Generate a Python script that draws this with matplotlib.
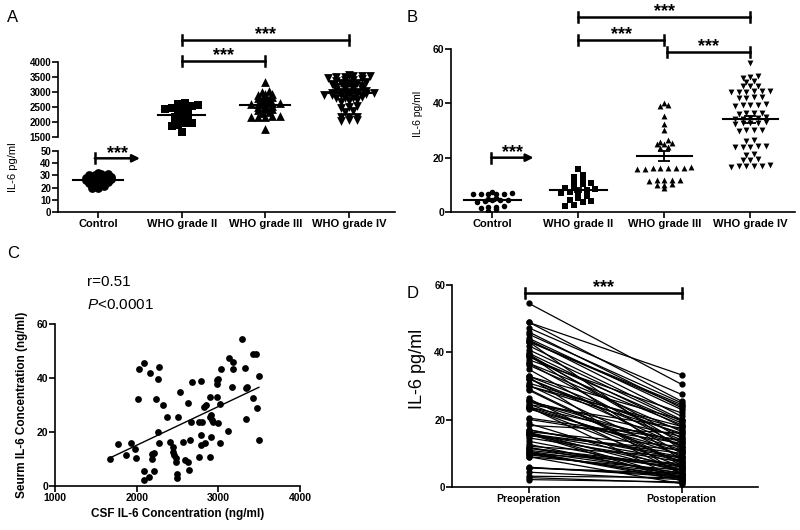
import numpy as np
import matplotlib
matplotlib.use("Agg")
import matplotlib.pyplot as plt

plt.rcParams["font.family"] = ["Liberation Sans", "DejaVu Sans"]
plt.rcParams["mathtext.fontset"] = "custom"
plt.rcParams["mathtext.it"] = "Liberation Sans:italic"
plt.rcParams["mathtext.rm"] = "Liberation Sans"

groups = ["Control", "WHO grade II", "WHO grade III", "WHO grade IV"]

# panel A: CSF IL-6 (pg/ml)
a_control = [32, 31, 31, 30, 30, 29, 29, 28, 28, 28, 27, 27, 27, 26, 26,
             25, 25, 24, 24, 23, 23, 22, 21, 20, 20]
a_grade2 = [2650, 2600, 2580, 2550, 2520, 2500, 2480, 2450, 2400, 2300, 2250,
            2200, 2150, 2100, 2050, 2000, 1980, 1950, 1900, 1850, 1650]
a_grade3 = [3350, 3050, 3000, 2950, 2950, 2900, 2850, 2800, 2800, 2750, 2700,
            2650, 2650, 2600, 2600, 2600, 2550, 2550, 2500, 2450, 2450, 2400,
            2350, 2300, 2200, 2200, 2150, 2150, 2150, 1750]
a_grade4 = [3560, 3550, 3540, 3530, 3500, 3490, 3480, 3420, 3400, 3390, 3380,
            3320, 3310, 3300, 3290, 3280, 3210, 3200, 3190, 3180, 3110, 3100,
            3090, 3080, 3020, 3010, 3000, 2990, 2980, 2960, 2950, 2940, 2930,
            2910, 2900, 2890, 2820, 2810, 2800, 2790, 2720, 2700, 2680, 2520,
            2500, 2480, 2360, 2340, 2170, 2160, 2150, 2060, 2050, 2040]

# panel B: serum IL-6 (pg/ml)
b_control = [7.5, 6.8, 6.6, 6.5, 6.5, 6.8, 7.0, 5.0, 4.8, 4.5, 4.3, 4.0, 3.8,
             4.5, 2.0, 1.8, 1.5, 0.3, 2.2, 1.2]
b_grade2 = [15.8, 13.5, 13.0, 11.8, 11.0, 10.5, 10.2, 9.5, 9.0, 8.5, 8.0, 7.5,
            7.2, 7.0, 6.0, 5.0, 4.5, 4.0, 3.5, 2.5, 2.2]
b_grade3 = [40.0, 39.5, 39.0, 35.2, 32.5, 30.3, 26.5, 25.8, 25.5, 25.2, 25.0,
            23.8, 23.5, 16.5, 16.3, 16.2, 16.2, 16.0, 16.0, 16.2, 16.3, 11.8,
            11.8, 11.6, 11.5, 11.7, 10.2, 10.0, 10.0, 9.0]
b_grade4 = [55.0, 50.0, 49.8, 49.5, 48.2, 48.0, 46.5, 46.5, 46.2, 44.6, 44.5,
            44.4, 44.3, 44.2, 44.0, 42.3, 42.2, 42.0, 41.8, 39.6, 39.5, 39.4,
            39.3, 39.2, 36.5, 36.4, 36.3, 36.2, 34.8, 34.6, 34.5, 34.4, 34.3,
            33.0, 32.8, 32.7, 32.6, 32.5, 30.3, 30.2, 30.1, 30.0, 26.5, 26.3,
            24.3, 24.2, 24.1, 24.0, 23.9, 21.2, 21.0, 19.5, 19.3, 19.2, 17.2,
            17.0, 16.9, 16.8, 16.8, 16.7]

# panel C: CSF vs serum
csf = [1673, 1767, 1869, 1930, 1979, 1996, 2020, 2028, 2085, 2159, 2085, 2093,
       2155, 2183, 2191, 2216, 2216, 2232, 2265, 2277, 2265, 2273, 2326, 2371,
       2404, 2449, 2449, 2461, 2477, 2481, 2490, 2498, 2510, 2530, 2571, 2591,
       2624, 2624, 2644, 2652, 2665, 2673, 2763, 2763, 2783, 2783, 2787, 2795,
       2828, 2836, 2844, 2893, 2897, 2901, 2909, 2909, 2926, 2938, 2979, 2979,
       2987, 2991, 2999, 3016, 3024, 3032, 3114, 3130, 3162, 3179, 3179, 3293,
       3330, 3334, 3334, 3350, 3424, 3424, 3464, 3468, 3497, 3497]
serum = [9.9, 15.6, 11.6, 15.8, 13.6, 10.4, 32.2, 43.2, 45.4, 42.0, 5.7, 2.2,
         3.2, 9.9, 11.7, 12.1, 5.7, 32.2, 39.8, 44.2, 20.1, 15.8, 30.0, 25.4,
         16.3, 14.6, 12.7, 11.5, 10.3, 9.0, 4.4, 2.8, 25.4, 35.0, 16.4, 9.6,
         9.0, 30.9, 5.9, 17.0, 23.6, 38.7, 23.8, 10.6, 39.0, 18.9, 15.2, 23.8,
         29.1, 16.1, 30.0, 32.9, 10.9, 25.7, 26.3, 18.3, 24.5, 23.8, 37.8, 32.9,
         39.3, 23.2, 39.5, 15.8, 30.3, 43.3, 20.5, 47.3, 36.8, 46.1, 43.2, 54.6,
         43.8, 24.7, 36.2, 36.8, 32.7, 48.9, 49.0, 28.8, 40.8, 17.0]

# panel D: serum IL-6 before / after surgery
pre_op = serum
post_op = [3, 6, 4, 8, 5, 2.5, 14, 24, 25, 20, 3.5, 1.5, 2.8, 7, 5.5, 9, 4, 12,
           18, 23, 13, 10, 16, 11, 4.5, 7.5, 3.2, 6.5, 2, 5, 2.2, 1.2, 15, 10,
           12, 3.8, 1, 17, 3, 8.5, 6, 19, 13.5, 4.2, 14.5, 5, 11, 9.5, 7, 2.6,
           18, 20, 6, 12.5, 4, 16, 17.5, 2, 22, 15.5, 8, 10.5, 13, 1.8, 9, 24.5,
           14, 27.5, 18.5, 23.5, 11, 30.5, 21, 7.5, 16.5, 12, 3.5, 33.3, 25.5,
           6.5, 19.5, 9]

W, H = 800, 530


def rect(x0, y0, x1, y1):
    return [x0 / W, 1 - y1 / H, (x1 - x0) / W, (y1 - y0) / H]


def style(ax, fs=7):
    for s in ["top", "right"]:
        ax.spines[s].set_visible(False)
    for s in ["left", "bottom"]:
        ax.spines[s].set_linewidth(1.2)
    ax.tick_params(direction="out", length=4, width=1.2, labelsize=fs, pad=1)
    for lab in ax.get_xticklabels() + ax.get_yticklabels():
        lab.set_fontweight("bold")


def swarm(vals, h, dx):
    # group close values into rows and spread each row sideways
    v = np.sort(np.asarray(vals, float))
    offs = np.zeros_like(v)
    i = 0
    while i < len(v):
        j = i
        while j < len(v) and v[j] - v[i] < h:
            j += 1
        n = j - i
        offs[i:j] = (np.arange(n) - (n - 1) / 2) * dx
        i = j
    return v, offs


def dots(ax, x, vals, marker, s, h, dx, half=0.3, cap=3):
    v, offs = swarm(vals, h, dx)
    ax.scatter(x + offs, v, marker=marker, s=s, color="k", linewidths=0, zorder=3)
    m = v.mean()
    sem = v.std(ddof=1) / np.sqrt(len(v))
    ax.plot([x - half, x + half], [m, m], color="k", lw=1.5, zorder=4)
    ax.errorbar(x, m, yerr=sem, color="k", lw=1.3, capsize=cap, capthick=1.3, zorder=4)


def stars(ax, x, y):
    ax.annotate("***", xy=(x, y), xytext=(0, 0.5),
                textcoords="offset points", ha="center", va="baseline",
                fontsize=13, fontweight="bold", annotation_clip=False)


def bracket(ax, x0, x1, y, cap):
    ax.plot([x0, x1], [y, y], color="k", lw=1.8, clip_on=False)
    for x in (x0, x1):
        ax.plot([x, x], [y - cap, y + cap], color="k", lw=1.8, clip_on=False)
    stars(ax, (x0 + x1) / 2, y)


def arrow(ax, x0, x1, y, cap):
    ax.plot([x0, x0], [y - cap, y + cap], color="k", lw=1.8, clip_on=False)
    ax.annotate("", xy=(x1, y), xytext=(x0, y),
                arrowprops=dict(arrowstyle="-|>", lw=1.8, color="k", mutation_scale=11,
                                shrinkA=0, shrinkB=0), annotation_clip=False)
    stars(ax, (x0 + x1) / 2, y)


fig = plt.figure(figsize=(8, 5.3), dpi=100)

# ---- A (broken y axis) ----
ax_au = fig.add_axes(rect(58, 62, 395, 137))
ax_al = fig.add_axes(rect(58, 151, 395, 212))
for ax in (ax_au, ax_al):
    ax.set_xlim(-0.48, 3.55)
ax_au.set_ylim(1500, 4000)
ax_au.set_yticks(range(1500, 4001, 500))
ax_al.set_ylim(0, 50)
ax_al.set_yticks(range(0, 51, 10))
ax_al.set_xticks(range(4))
ax_al.set_xticklabels(groups)
dots(ax_al, 0, a_control, "o", 40, 1.2, 0.075)
dots(ax_au, 1, a_grade2, "s", 38, 150, 0.08, half=0.28)
dots(ax_au, 2, a_grade3, "^", 40, 100, 0.085)
dots(ax_au, 3, a_grade4, "v", 40, 80, 0.1)
style(ax_au)
style(ax_al)
ax_au.spines["bottom"].set_visible(False)
ax_au.tick_params(axis="x", bottom=False, labelbottom=False)
for lab in ax_al.get_xticklabels():
    lab.set_fontsize(8)
bracket(ax_au, 1, 3, 4733, 160)
bracket(ax_au, 1, 2, 4033, 160)
arrow(ax_al, -0.04, 0.5, 44, 4)
fig.text(13 / W, 1 - 167 / H, "IL-6 pg/ml", rotation=90, ha="center", va="center", fontsize=8)

# ---- B ----
ax_b = fig.add_axes(rect(451, 49, 795, 212))
ax_b.set_xlim(-0.48, 3.52)
ax_b.set_ylim(0, 60)
ax_b.set_yticks([0, 20, 40, 60])
ax_b.set_xticks(range(4))
ax_b.set_xticklabels(groups)
dots(ax_b, 0, b_control, "o", 16, 1.0, 0.09, half=0.33)
dots(ax_b, 1, b_grade2, "s", 18, 2.0, 0.1, half=0.33)
dots(ax_b, 2, b_grade3, "^", 18, 0.8, 0.09, half=0.32, cap=4)
dots(ax_b, 3, b_grade4, "v", 18, 0.8, 0.09, half=0.32, cap=4)
style(ax_b, 7.5)
for lab in ax_b.get_xticklabels():
    lab.set_fontsize(8)
bracket(ax_b, 1, 3, 71.8, 1.8)
bracket(ax_b, 1, 2, 63.3, 1.8)
bracket(ax_b, 2.03, 3, 58.9, 1.8)
arrow(ax_b, -0.01, 0.48, 20, 1.8)
fig.text(418 / W, 1 - 114 / H, "IL-6 pg/ml", rotation=90, ha="center", va="center", fontsize=7.5)

# ---- C ----
ax_c = fig.add_axes(rect(55, 324, 300, 486))
ax_c.scatter(csf, serum, s=24, color="k", linewidths=0, zorder=3)
k, b = np.polyfit(csf, serum, 1)
xs = np.array([min(csf), max(csf)])
ax_c.plot(xs, k * xs + b, color="k", lw=1)
ax_c.set_xlim(1000, 4000)
ax_c.set_ylim(0, 60)
ax_c.set_xticks([1000, 2000, 3000, 4000])
ax_c.set_yticks([0, 20, 40, 60])
style(ax_c, 7.5)
ax_c.set_xlabel("CSF IL-6 Concentration (ng/ml)", fontsize=8.5, fontweight="bold", labelpad=4)
ax_c.set_ylabel("Seurm IL-6 Concentration (ng/ml)", fontsize=8.5, fontweight="bold", labelpad=6)
fig.text(87 / W, 1 - 286 / H, "r=0.51", fontsize=11)
fig.text(87 / W, 1 - 309 / H, r"$\it{P}$<0.0001", fontsize=11)

# ---- D ----
ax_d = fig.add_axes(rect(452, 285, 758, 487))
ax_d.plot([0, 1], np.vstack([pre_op, post_op]), color="k", lw=0.9,
          marker="o", ms=3.5, zorder=3)
ax_d.set_xlim(-0.5, 1.5)
ax_d.set_ylim(0, 60)
ax_d.set_yticks([0, 20, 40, 60])
ax_d.set_xticks([0, 1])
ax_d.set_xticklabels(["Preoperation", "Postoperation"])
style(ax_d, 7)
for lab in ax_d.get_xticklabels():
    lab.set_fontsize(7.5)
bracket(ax_d, -0.02, 1, 57.6, 1.5)
fig.text(417 / W, 1 - 369 / H, "IL-6 pg/ml", rotation=90, ha="center", va="center", fontsize=13)

# panel letters
for lbl, x, y in [("A", 7, 22), ("B", 407, 22), ("C", 7, 258), ("D", 407, 298)]:
    fig.text(x / W, 1 - y / H, lbl, fontsize=12, va="baseline")

fig.savefig("out.png", dpi=100)
